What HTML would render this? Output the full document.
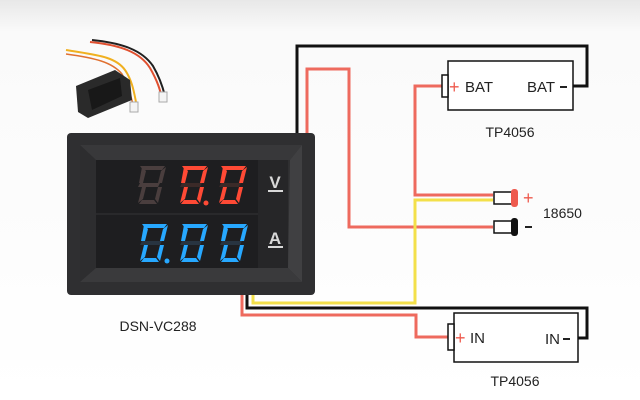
<!DOCTYPE html>
<html><head><style>
html,body{margin:0;padding:0;background:#fff;}
svg{display:block;}
</style></head><body>
<svg width="640" height="400" viewBox="0 0 640 400" xmlns="http://www.w3.org/2000/svg" font-family="Liberation Sans, sans-serif">
<defs>
<linearGradient id="bg" x1="0" y1="0" x2="0" y2="1">
<stop offset="0" stop-color="#e8e8e8"/><stop offset="0.08" stop-color="#fafafa"/><stop offset="1" stop-color="#ffffff"/>
</linearGradient>
<g id="zero">
<path d="M5,1 L30,1 L27,5 L8,5 Z"/>
<path d="M31,2 L27,18 L23,18 L26,6 Z"/>
<path d="M27,22 L23,38 L20,34 L23,22 Z"/>
<path d="M4,39 L22,39 L19,35 L7,35 Z"/>
<path d="M3,38 L7,22 L11,22 L8,34 Z"/>
<path d="M4,2 L8,6 L5,18 L1,18 Z" transform="translate(3,0)"/>
</g>
</defs>
<rect width="640" height="400" fill="url(#bg)"/>

<!-- small module image -->
<g>
<path d="M90,42 C120,45 140,52 150,68 C158,82 160,90 162,98" stroke="#e05030" stroke-width="2" fill="none"/>
<path d="M92,40 C122,43 142,50 153,66 C160,78 163,88 165,96" stroke="#202020" stroke-width="2" fill="none"/>
<path d="M66,50 C95,55 115,56 125,70 C132,80 134,92 136,102" stroke="#f0b020" stroke-width="2" fill="none"/>
<path d="M66,54 C95,58 112,62 122,74 C128,84 130,94 133,104" stroke="#e07030" stroke-width="1.5" fill="none"/>
<rect x="159" y="92" width="8" height="10" fill="#f4f4f4" stroke="#aaa"/>
<rect x="130" y="102" width="8" height="10" fill="#f4f4f4" stroke="#aaa"/>
<polygon points="76,86 115,70 130,80 132,100 88,118 78,112" fill="#2a2a2a"/>
<polygon points="88,90 120,78 122,96 92,110" fill="#181818"/>
</g>

<!-- wires -->
<g fill="none" stroke-width="3" stroke-linejoin="miter">
<polyline points="297,133 297,46 587,46 587,86 573,86" stroke="#111"/>
<polyline points="307,133 307,69 349,69 349,227 493,227" stroke="#ee6a5e"/>
<polyline points="443,86 415,86 415,195 493,195" stroke="#ee6a5e"/>
<polyline points="493,200 415,200 415,303 253,303 253,295" stroke="#f3e04a"/>
<polyline points="247,295 247,308 587,308 587,338 575,338" stroke="#111"/>
<polyline points="242,295 242,315 416,315 416,337 448,337" stroke="#ee6a5e"/>
</g>

<!-- TP4056 top -->
<rect x="448" y="61" width="125" height="49" fill="#fff" stroke="#111" stroke-width="1.5"/>
<rect x="442" y="75" width="6" height="22" fill="#fff" stroke="#111" stroke-width="1.5"/>
<text x="449" y="93" font-size="18" fill="#ee5a4e">+</text>
<text x="465" y="92" font-size="15" fill="#222">BAT</text>
<text x="527" y="92" font-size="15" fill="#222">BAT</text>
<rect x="560" y="86" width="7" height="2" fill="#222"/>
<text x="510" y="137" font-size="14" fill="#222" text-anchor="middle">TP4056</text>

<!-- 18650 terminals -->
<rect x="494" y="192" width="18" height="12" fill="#fff" stroke="#111" stroke-width="1.5"/>
<rect x="511" y="189" width="7" height="18" rx="3" fill="#ee5a4e"/>
<text x="523" y="204" font-size="18" fill="#ee5a4e">+</text>
<rect x="494" y="221" width="18" height="12" fill="#fff" stroke="#111" stroke-width="1.5"/>
<rect x="511" y="218" width="7" height="18" rx="3" fill="#111"/>
<rect x="525" y="226" width="7" height="2" fill="#222"/>
<text x="543" y="218" font-size="14" fill="#222">18650</text>

<!-- TP4056 bottom -->
<rect x="454" y="313" width="124" height="49" fill="#fff" stroke="#111" stroke-width="1.5"/>
<rect x="448" y="324" width="6" height="26" fill="#fff" stroke="#111" stroke-width="1.5"/>
<text x="455" y="344" font-size="18" fill="#ee5a4e">+</text>
<text x="470" y="343" font-size="15" fill="#222">IN</text>
<text x="545" y="344" font-size="15" fill="#222">IN</text>
<rect x="563" y="338" width="7" height="2" fill="#222"/>
<text x="515" y="386" font-size="14" fill="#222" text-anchor="middle">TP4056</text>

<!-- meter -->
<rect x="67" y="133" width="248" height="162" rx="4" fill="#2f2f31"/>
<polygon points="80,145 302,145 290,160 96,160" fill="#38383a"/>
<polygon points="80,145 96,160 96,268 80,282" fill="#2d2d2f"/>
<polygon points="302,145 302,282 288,268 290,160" fill="#404042"/>
<polygon points="80,282 302,282 288,268 96,268" fill="#3a3a3c"/>
<rect x="96" y="160" width="192" height="108" fill="#1e1e20"/>
<rect x="258" y="160" width="30" height="108" fill="#262628"/>
<rect x="96" y="213" width="162" height="2" fill="#29292b"/>

<!-- digits -->
<g fill="#4a3e3e"><use href="#zero" x="135" y="165"/><path d="M140,183 L160,183 L158,187 L138,187 Z"/></g>
<g fill="#ff4a35"><use href="#zero" x="177" y="165"/><use href="#zero" x="216" y="165"/><circle cx="206" cy="203" r="2.5"/></g>
<g fill="#3b2a28"><path d="M182,183 L202,183 L200,187 L180,187 Z"/><path d="M221,183 L241,183 L239,187 L219,187 Z"/></g>
<g fill="#27a8ff"><use href="#zero" x="137" y="223"/><use href="#zero" x="177" y="223"/><use href="#zero" x="217" y="223"/><circle cx="167" cy="261" r="2.5"/></g>
<g fill="#283440"><path d="M142,241 L162,241 L160,245 L140,245 Z"/><path d="M182,241 L202,241 L200,245 L180,245 Z"/><path d="M222,241 L242,241 L240,245 L220,245 Z"/></g>
<text x="275" y="188" font-size="17" font-weight="bold" fill="#d8d8d8" text-anchor="middle">V</text>
<rect x="268" y="190" width="15" height="2" fill="#d8d8d8"/>
<text x="275" y="244" font-size="17" font-weight="bold" fill="#d8d8d8" text-anchor="middle">A</text>
<rect x="268" y="246" width="15" height="2" fill="#d8d8d8"/>

<text x="158" y="331" font-size="14" fill="#222" text-anchor="middle">DSN-VC288</text>
</svg>
</body></html>
